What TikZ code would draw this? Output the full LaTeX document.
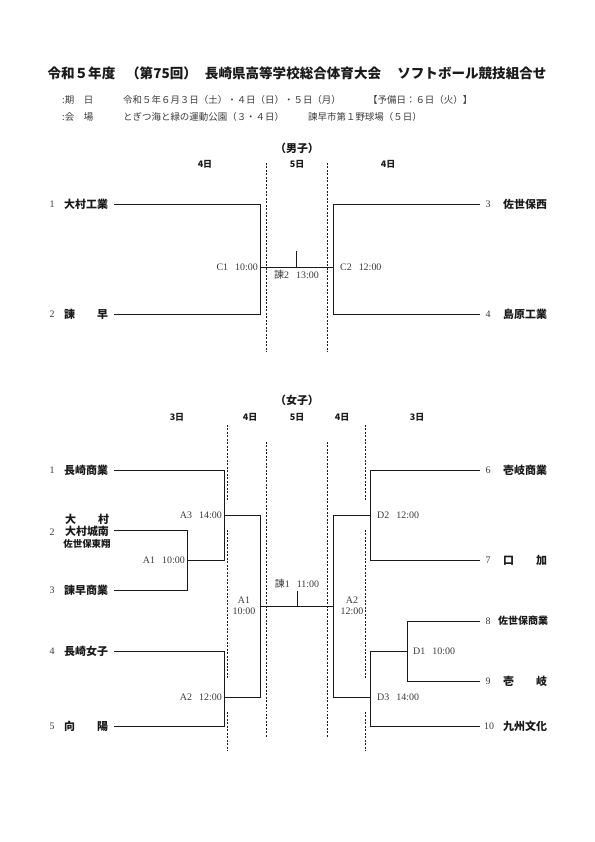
\documentclass[tikz,border=0pt]{standalone}
\usepackage{fontspec}
\usepackage{xcolor}
\usetikzlibrary{positioning, calc}
\setmainfont{Liberation Serif}
\newfontfamily\cjk{Noto Sans CJK JP}
\definecolor{encre}{HTML}{1A1A1A}
\definecolor{gris}{HTML}{3A3A3A}
\newcommand\espace[2]{\makebox[44bp][s]{#1\hfill#2}}
\newcommand\rencontre[2]{#1\hspace{0.7em}#2}
\tikzset{
  titre/.style={font=\cjk\bfseries\fontsize{13.6}{16}\selectfont, text=encre, inner sep=0},
  info/.style={font=\cjk\fontsize{9.5}{11}\selectfont, text=gris, anchor=west, inner sep=0},
  section/.style={font=\cjk\bfseries\fontsize{11}{13}\selectfont, text=encre, inner sep=0},
  jour/.style={font=\cjk\bfseries\fontsize{9}{10}\selectfont, text=encre, inner sep=0},
  equipe/.style={font=\cjk\bfseries\fontsize{11}{12}\selectfont, text=encre, anchor=west, inner sep=0},
  numero/.style={font=\fontsize{10}{10}\selectfont, text=gris, inner sep=0},
  match/.style={font=\fontsize{10}{11.5}\selectfont, text=gris, inner sep=0, align=center},
  trait/.style={line width=0.8pt, color=encre},
  pointille/.style={dash pattern=on 2pt off 1.5pt, line width=0.5pt, color=encre}
}
\begin{document}
\begin{tikzpicture}[x=1bp, y=-1bp]
  \useasboundingbox (0,0) rectangle (595,842);

  % en-tete
  \node[titre] (titre) at (297,73) {令和５年度\hspace{0.8em}（第75回）\hspace{0.6em}長崎県高等学校総合体育大会\hspace{1.2em}ソフトボール競技組合せ};
  \node[info] (kijitu) at (62,100) {:期　日};
  \node[info] (dates) at (123,100) {令和５年６月３日（土）・４日（日）・５日（月）};
  \node[info] (yobi) at (368,100) {【予備日：６日（火）】};
  \node[info] (kaijo) at (62,117) {:会　場};
  \node[info] (lieu1) at (123,117) {とぎつ海と緑の運動公園（３・４日）};
  \node[info] (lieu2) at (308,117) {諫早市第１野球場（５日）};

  % garcons
  \node[section] (danshi) at (297,148) {（男子）};
  \node[jour] (mj1) at (205,164) {4日};
  \node[jour] (mj2) at (297,164) {5日};
  \node[jour] (mj3) at (388,164) {4日};
  \draw[pointille] (266.7,163) -- (266.7,352);
  \draw[pointille] (327.3,163) -- (327.3,352);

  \node[numero] (mn1) at (52,204) {1};
  \node[equipe] (mt1) at (64,204) {大村工業};
  \node[numero] (mn2) at (52,314) {2};
  \node[equipe] (mt2) at (64,314) {\espace{諫}{早}};
  \node[numero] (mn3) at (488,204) {3};
  \node[equipe] (mt3) at (503,204) {佐世保西};
  \node[numero] (mn4) at (488,314) {4};
  \node[equipe] (mt4) at (503,314) {島原工業};

  \coordinate (me1) at (114,204);
  \coordinate (me2) at (114,314);
  \coordinate (me3) at (480,204);
  \coordinate (me4) at (480,314);
  \coordinate (c1) at (260,267);
  \coordinate (c2) at (333,267);
  \coordinate (fm) at (296.5,267);
  \coordinate (fmh) at (296.5,251);

  \draw[trait] (me1) -| (c1);
  \draw[trait] (me2) -| (c1);
  \draw[trait] (me3) -| (c2);
  \draw[trait] (me4) -| (c2);
  \draw[trait] (c1) -- (c2);
  \draw[trait] (fm) -- (fmh);

  \node[match, anchor=east] (lc1) at ([xshift=-2pt]c1) {\rencontre{C1}{10:00}};
  \node[match, anchor=west] (lc2) at ([xshift=7pt]c2) {\rencontre{C2}{12:00}};
  \node[match, anchor=north] (lfm) at ([yshift=-3pt]fm) {\rencontre{{\cjk 諫}2}{13:00}};

  % filles
  \node[section] (joshi) at (297,400) {（女子）};
  \node[jour] (fj1) at (177,417) {3日};
  \node[jour] (fj2) at (250,417) {4日};
  \node[jour] (fj3) at (297,417) {5日};
  \node[jour] (fj4) at (342,417) {4日};
  \node[jour] (fj5) at (417,417) {3日};
  \foreach \x in {227.5, 365.7} {
    \draw[pointille] (\x,425) -- (\x,500);
    \draw[pointille] (\x,530) -- (\x,679);
    \draw[pointille] (\x,712) -- (\x,751);
  }
  \draw[pointille] (266.7,442) -- (266.7,737);
  \draw[pointille] (327.3,442) -- (327.3,737);

  \node[numero] (fn1) at (52,470) {1};
  \node[equipe] (ft1) at (64,470) {長崎商業};
  \node[numero] (fn2) at (52,532) {2};
  \node[equipe, anchor=center, align=center] (ft2) at (87,531)
    {\espace{大}{村}\\大村城南\\{\fontsize{9.5}{12}\selectfont 佐世保東翔}};
  \node[numero] (fn3) at (52,590) {3};
  \node[equipe] (ft3) at (64,590) {諫早商業};
  \node[numero] (fn4) at (52,651) {4};
  \node[equipe] (ft4) at (64,651) {長崎女子};
  \node[numero] (fn5) at (52,726) {5};
  \node[equipe] (ft5) at (64,726) {\espace{向}{陽}};
  \node[numero] (fn6) at (488,470) {6};
  \node[equipe] (ft6) at (503,470) {壱岐商業};
  \node[numero] (fn7) at (488,560) {7};
  \node[equipe] (ft7) at (503,560) {\espace{口}{加}};
  \node[numero] (fn8) at (488,621) {8};
  \node[equipe, font=\cjk\bfseries\fontsize{10}{12}\selectfont] (ft8) at (498,621) {佐世保商業};
  \node[numero] (fn9) at (488,681) {9};
  \node[equipe] (ft9) at (503,681) {\espace{壱}{岐}};
  \node[numero] (fn10) at (489,726) {10};
  \node[equipe] (ft10) at (503,726) {九州文化};

  \coordinate (fe1) at (114,470);
  \coordinate (fe2) at (114,530);
  \coordinate (fe3) at (114,590);
  \coordinate (fe4) at (114,651);
  \coordinate (fe5) at (114,726);
  \coordinate (fe6) at (480,470);
  \coordinate (fe7) at (480,560);
  \coordinate (fe8) at (480,621);
  \coordinate (fe9) at (480,681);
  \coordinate (fe10) at (480,726);
  \coordinate (a1) at (187,560);
  \coordinate (a3) at (224,515);
  \coordinate (a2) at (224,697);
  \coordinate (sa) at (260,606);
  \coordinate (sd) at (333,606);
  \coordinate (d2) at (370,515);
  \coordinate (d1) at (407,651);
  \coordinate (d3) at (370,697);
  \coordinate (ff) at (297,606);
  \coordinate (ffh) at (297,591);

  \draw[trait] (fe2) -| (a1);
  \draw[trait] (fe3) -| (a1);
  \draw[trait] (fe1) -| (a3);
  \draw[trait] (a1) -| (a3);
  \draw[trait] (fe4) -| (a2);
  \draw[trait] (fe5) -| (a2);
  \draw[trait] (a3) -| (sa);
  \draw[trait] (a2) -| (sa);
  \draw[trait] (sa) -- (sd);
  \draw[trait] (ff) -- (ffh);
  \draw[trait] (fe6) -| (d2);
  \draw[trait] (fe7) -| (d2);
  \draw[trait] (fe8) -| (d1);
  \draw[trait] (fe9) -| (d1);
  \draw[trait] (d1) -| (d3);
  \draw[trait] (fe10) -| (d3);
  \draw[trait] (d2) -| (sd);
  \draw[trait] (d3) -| (sd);

  \node[match, anchor=east] (la1) at ([xshift=-2pt]a1) {\rencontre{A1}{10:00}};
  \node[match, anchor=east] (la3) at ([xshift=-2pt]a3) {\rencontre{A3}{14:00}};
  \node[match, anchor=east] (la2) at ([xshift=-2pt]a2) {\rencontre{A2}{12:00}};
  \node[match] (lsa) at (244,606) {A1\\10:00};
  \node[match] (lsd) at (352,606) {A2\\12:00};
  \node[match, anchor=south] (lff) at ([yshift=3pt]ffh) {\rencontre{{\cjk 諫}1}{11:00}};
  \node[match, anchor=west] (ld2) at ([xshift=7pt]d2) {\rencontre{D2}{12:00}};
  \node[match, anchor=west] (ld1) at ([xshift=6pt]d1) {\rencontre{D1}{10:00}};
  \node[match, anchor=west] (ld3) at ([xshift=7pt]d3) {\rencontre{D3}{14:00}};
\end{tikzpicture}
\end{document}
